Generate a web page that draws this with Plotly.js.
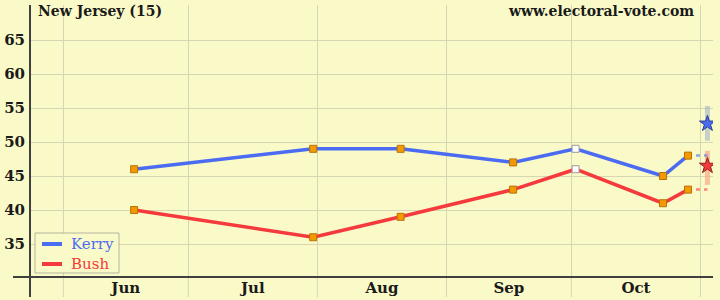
<!DOCTYPE html>
<html>
<head>
<meta charset="utf-8">
<script src="https://cdn.plot.ly/plotly-3.0.1.min.js"></script>
<style>
html,body{margin:0;padding:0;background:#fafac8;}
#chart{width:720px;height:300px;}
</style>
</head>
<body>
<div id="chart"></div>
<script>
// ---- data ----
const pollDates = ['2004-06-18','2004-07-31','2004-08-21','2004-09-17','2004-10-02','2004-10-23','2004-10-29'];
const kerry = [46, 49, 49, 47, 49, 45, 48];
const bush  = [40, 36, 39, 43, 46, 41, 43];
const hollowPoll = [false, false, false, false, true, false, false];
const projDate = '2004-11-02 16:00';
const kerryProj = 52.7, kerryLow = 50.2, kerryHigh = 55.3;
const bushProj = 46.5, bushLow = 43.7, bushHigh = 48.7;
const monthStarts = ['2004-06-01','2004-07-01','2004-08-01','2004-09-01','2004-10-01','2004-11-01'];
const monthMids = ['2004-06-16','2004-07-16 12:00','2004-08-16 12:00','2004-09-16','2004-10-16 12:00'];
const monthLabels = ['Jun','Jul','Aug','Sep','Oct'];
const yTicks = [35,40,45,50,55,60,65];
const seriesNames = ['Kerry','Bush'];

// ---- styling ----
const BG = '#fafac8';
const GRID = '#d6d6b4';
const AXIS = '#404040';
const BLUE = '#4b6cf2';
const RED = '#f43a3c';
const serif = 'DejaVu Serif';

const mFill = hollowPoll.map(h => h ? '#ffffff' : '#f29a00');
const mLine = hollowPoll.map(h => h ? '#9a9a9a' : '#b8720a');

const lastIdx = pollDates.length - 1;
const traces = [
  {x:[projDate, projDate], y:[kerryLow, kerryHigh], mode:'lines', line:{color:'rgba(160,180,200,0.6)', width:5}, hoverinfo:'skip'},
  {x:[projDate, projDate], y:[bushLow, bushHigh], mode:'lines', line:{color:'rgba(248,165,135,0.7)', width:5}, hoverinfo:'skip'},
  {x:[pollDates[lastIdx], projDate], y:[kerry[lastIdx], kerry[lastIdx]], mode:'lines', line:{color:'rgba(75,108,242,0.6)', width:2.5, dash:'4px,4px'}, hoverinfo:'skip'},
  {x:[pollDates[lastIdx], projDate], y:[bush[lastIdx], bush[lastIdx]], mode:'lines', line:{color:'rgba(244,58,60,0.6)', width:2.5, dash:'4px,4px'}, hoverinfo:'skip'},
  {x:pollDates, y:kerry, name:seriesNames[0], mode:'lines+markers',
   line:{color:BLUE, width:3.5}, marker:{symbol:'square', size:7, color:mFill, line:{color:mLine, width:1}}},
  {x:pollDates, y:bush, name:seriesNames[1], mode:'lines+markers',
   line:{color:RED, width:3.5}, marker:{symbol:'square', size:7, color:mFill, line:{color:mLine, width:1}}},
  {x:[projDate], y:[kerryProj], mode:'markers', marker:{symbol:'star', size:12, color:BLUE, line:{color:'#2a3f8a', width:1}}},
  {x:[projDate], y:[bushProj], mode:'markers', marker:{symbol:'star', size:12, color:RED, line:{color:'#8b2020', width:1}}}
];

const plotW = 683, plotH = 272;
const shapes = [];
monthStarts.forEach(d => shapes.push({type:'line', xref:'x', yref:'paper', x0:d, x1:d, y0:-20/plotH, y1:0, line:{color:GRID, width:1}, layer:'below'}));
shapes.push({type:'line', xref:'paper', yref:'paper', x0:0, x1:0, y0:-20/plotH, y1:1, line:{color:AXIS, width:2}});
shapes.push({type:'line', xref:'paper', yref:'paper', x0:-17/plotW, x1:1, y0:0, y1:0, line:{color:AXIS, width:2}});
// legend box
shapes.push({type:'rect', xref:'paper', yref:'paper', x0:5/plotW, x1:89/plotW, y0:4/plotH, y1:44/plotH, fillcolor:BG, line:{color:'#b4b4a0', width:1}});
shapes.push({type:'line', xref:'paper', yref:'paper', x0:12/plotW, x1:32/plotW, y0:33/plotH, y1:33/plotH, line:{color:BLUE, width:4}});
shapes.push({type:'line', xref:'paper', yref:'paper', x0:12/plotW, x1:32/plotW, y0:13/plotH, y1:13/plotH, line:{color:RED, width:4}});

const layout = {
  width:720, height:300,
  paper_bgcolor:BG, plot_bgcolor:BG,
  margin:{l:30, r:7, t:5, b:23, pad:0},
  showlegend:false,
  xaxis:{type:'date', range:['2004-05-24','2004-11-04'], tickmode:'array', tickvals:monthMids, ticktext:monthLabels,
         showgrid:false, zeroline:false, showline:false, ticks:'', ticklen:0,
         tickfont:{family:serif, size:15, color:'#1a1a1a', weight:'bold'},
         minor:{tickmode:'array', tickvals:monthStarts, showgrid:true, gridcolor:GRID, gridwidth:1, ticks:''},
         fixedrange:true},
  yaxis:{range:[30.15, 70.15], tickmode:'array', tickvals:yTicks, showgrid:true, gridcolor:GRID, gridwidth:1,
         zeroline:false, showline:false, ticks:'', ticklen:0, ticklabelstandoff:4,
         tickfont:{family:serif, size:15, color:'#1a1a1a', weight:'bold'}, fixedrange:true},
  shapes:shapes,
  annotations:[
    {xref:'paper', yref:'paper', x:6/plotW, y:1, xanchor:'left', yanchor:'middle', yshift:-6, text:'New Jersey (15)', showarrow:false,
     font:{family:serif, size:14, color:'#1a1a1a', weight:'bold'}},
    {xref:'paper', yref:'paper', x:(696-30)/plotW, y:1, xanchor:'right', yanchor:'middle', yshift:-6, text:'www.electoral-vote.com', showarrow:false,
     font:{family:serif, size:14, color:'#1a1a1a', weight:'bold'}},
    {xref:'paper', yref:'paper', x:39/plotW, y:33/plotH, xanchor:'left', yanchor:'middle', text:seriesNames[0], showarrow:false,
     font:{family:serif, size:15, color:BLUE}},
    {xref:'paper', yref:'paper', x:39/plotW, y:13/plotH, xanchor:'left', yanchor:'middle', text:seriesNames[1], showarrow:false,
     font:{family:serif, size:15, color:RED}}
  ]
};

Plotly.newPlot('chart', traces, layout, {staticPlot:true, displayModeBar:false});
</script>
</body>
</html>
